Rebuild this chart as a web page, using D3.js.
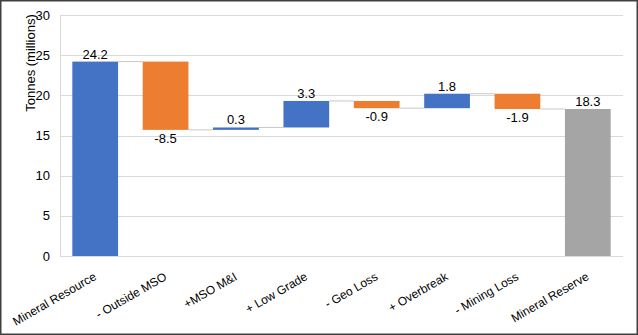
<!DOCTYPE html>
<html>
<head>
<meta charset="utf-8">
<script src="https://cdn.jsdelivr.net/npm/d3@7"></script>
<style>
  html, body { margin: 0; padding: 0; background: #fff; }
  svg { display: block; }
  text { font-family: "Liberation Sans", Arial, sans-serif; }
</style>
</head>
<body>
<svg id="chart" width="638" height="335"></svg>
<script>
const categories = ["Mineral Resource", "- Outside MSO", "+MSO M&I", "+ Low Grade", "- Geo Loss", "+ Overbreak", "- Mining Loss", "Mineral Reserve"];
const values = [24.2, -8.5, 0.3, 3.3, -0.9, 1.8, -1.9, 18.3];
const isTotal = [true, false, false, false, false, false, false, true];
const yTicks = [0, 5, 10, 15, 20, 25, 30];
const yTitle = "Tonnes (millions)";

const colors = { total1: "#4472C4", up: "#4472C4", down: "#ED7D31", total2: "#A5A5A5" };

const W = 638, H = 335;
const svg = d3.select("#chart");

// border
svg.append("rect").attr("x", 0.75).attr("y", 0.75).attr("width", W - 1.5).attr("height", H - 1.5)
  .attr("fill", "#fff").attr("stroke", "#404040").attr("stroke-width", 1.5);

const x = d3.scaleBand().domain(categories).range([60, 623]).paddingInner(0.35).paddingOuter(0.175);
const y = d3.scaleLinear().domain([0, 30]).range([256, 15]);

// compute waterfall
let run = 0;
const bars = categories.map((c, i) => {
  let y0, y1;
  if (isTotal[i]) { y0 = 0; y1 = values[i]; run = values[i]; }
  else { y0 = run; y1 = run + values[i]; run = y1; }
  let color;
  if (isTotal[i]) color = i === 0 ? colors.total1 : colors.total2;
  else color = values[i] >= 0 ? colors.up : colors.down;
  return { c, i, v: values[i], y0, y1, end: run, color };
});

// gridlines
svg.append("g").selectAll("line").data(yTicks).join("line")
  .attr("x1", 60).attr("x2", 623)
  .attr("y1", d => Math.round(y(d)) + 0.5).attr("y2", d => Math.round(y(d)) + 0.5)
  .attr("stroke", "#D9D9D9").attr("stroke-width", 1);

// left axis line
svg.append("line").attr("x1", 60.5).attr("x2", 60.5).attr("y1", y(30)).attr("y2", y(0))
  .attr("stroke", "#D9D9D9");

// tick labels
svg.append("g").selectAll("text").data(yTicks).join("text")
  .attr("x", 50).attr("y", d => y(d)).attr("dy", "0.35em")
  .attr("text-anchor", "end").attr("font-size", 13).attr("fill", "#000")
  .text(d => d);

// y title
svg.append("text").attr("transform", "translate(35,63) rotate(-90)")
  .attr("text-anchor", "middle").attr("font-size", 13).attr("fill", "#000").text(yTitle);

// connectors
svg.append("g").selectAll("line").data(bars.slice(0, -1)).join("line")
  .attr("x1", d => x(d.c) + x.bandwidth())
  .attr("x2", d => x(categories[d.i + 1]))
  .attr("y1", d => y(d.end)).attr("y2", d => y(d.end))
  .attr("stroke", "#C8C8C8").attr("stroke-width", 1);

// bars
svg.append("g").selectAll("rect").data(bars).join("rect")
  .attr("x", d => x(d.c)).attr("width", x.bandwidth())
  .attr("y", d => y(Math.max(d.y0, d.y1)))
  .attr("height", d => Math.abs(y(d.y0) - y(d.y1)))
  .attr("fill", d => d.color);

// value labels
svg.append("g").selectAll("text").data(bars).join("text")
  .attr("x", d => x(d.c) + x.bandwidth() / 2)
  .attr("y", d => d.v >= 0 ? y(Math.max(d.y0, d.y1)) - 3 : y(Math.min(d.y0, d.y1)) + 13)
  .attr("text-anchor", "middle").attr("font-size", 13).attr("fill", "#000")
  .text(d => d.v.toFixed(1));

// x labels
svg.append("g").selectAll("text").data(categories).join("text")
  .attr("transform", d => `translate(${x(d) + x.bandwidth() / 2 + 2},279) rotate(-30)`)
  .attr("text-anchor", "end").attr("font-size", 12).attr("fill", "#000")
  .text(d => d);
</script>
</body>
</html>
